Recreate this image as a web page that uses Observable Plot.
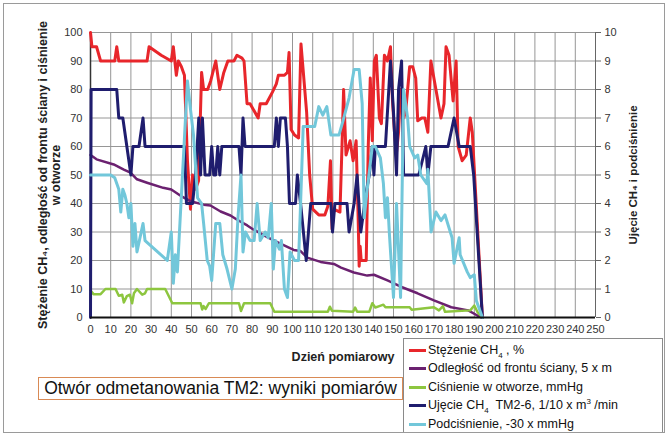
<!DOCTYPE html>
<html>
<head>
<meta charset="utf-8">
<script src="https://cdn.jsdelivr.net/npm/d3@7"></script>
<script src="https://cdn.jsdelivr.net/npm/@observablehq/plot@0.6"></script>
<style>
  html, body { margin: 0; padding: 0; background: #fff; }
  #wrap { position: relative; width: 671px; height: 438px; font-family: "Liberation Sans", Arial, sans-serif; }
  #frame { position: absolute; left: 3px; top: 3px; width: 662px; height: 430px; border: 1.5px solid #9a9a9a; box-sizing: border-box; pointer-events: none; }
  #title { position: absolute; left: 38px; top: 377px; width: 365px; height: 23px; border: 1.5px solid #d98a55; box-sizing: border-box; font-size: 17.5px; line-height: 20px; text-align: center; color: #111; white-space: nowrap; }
  #legend { position: absolute; left: 403px; top: 338px; width: 260px; height: 95px; border: 1px solid #8a8a8a; box-sizing: border-box; background: #fff; font-size: 12.5px; color: #111; padding-top: 2px; }
  .item { height: 18.4px; line-height: 18.4px; position: relative; padding-left: 24px; white-space: nowrap; }
  .sw { position: absolute; left: 5px; top: 8px; width: 17px; height: 3px; }
  sub, sup { font-size: 8px; line-height: 0; }
  svg { position: absolute; left: 0; top: 0; }
</style>
</head>
<body>
<div id="wrap">
  <div id="chart"></div>
  <div id="title">Otwór odmetanowania TM2: wyniki pomiarów</div>
  <div id="legend"></div>
  <div id="frame"></div>
</div>
<script>
// ---- Data ----
const xTicks = d3.range(0, 251, 10);
const leftTicks = d3.range(0, 101, 10);

// Stężenie CH4, % (left axis)
const ch4Day = [0,0.7,3,5,12,13,14,28,29,35,40,41,42.5,43.5,45,46.5,48,49.5,50.5,52,53.5,55,56,58,59.5,62,64,66,68,71,72.5,75,76,77.5,79,83,84,87,90,92,93,96,97.5,98.3,99.3,101,103,104.2,107,108.5,110,113,116,117.5,118.8,119.6,120.5,123.5,124.5,125.3,126.5,128.5,130,131.5,132.5,133,133.5,134,136.5,137.5,138.5,139.5,140.5,141.5,143,144,145.5,147,148.5,149.5,150.5,151.5,152.5,153.5,155,156,158,159.5,161,162,164,165.5,167,168.5,171,173.5,175,176,177.5,179.5,181,182,184,186,188,189,194];
const ch4Val = [100,95,95,90,90,95,90,90,95,92,90,95,85,90,88,85,55,38,50,45,48,86,80,80,83,90,80,86,90,90,92,91,90,75,75,70,75,75,79,82,85,85,86,93,66,64,63,96,72,50,38,36,36,39,55,31,38,37,60,80,57,62,55,62,35,18,25,20,20,60,84,62,90,92,70,68,92,90,95,76,65,58,65,80,70,72,88,88,84,69,70,70,65,90,80,70,75,95,92,76,90,60,55,57,70,65,0];

// Odległość od frontu ściany, 5 x m (left axis)
const distDay = [0,3,11.5,16.5,19.8,23,28,36,40,44.6,49.5,56,59.4,64.4,69.3,72.6,77.6,80.8,87.5,94,100.6,104,107.3,113.9,120.5,124,130.4,137,140.3,147,150.2,153.6,161.9,170,178.6,187,191.5,193.6];
const distVal = [57,55.5,53.7,51.9,50.8,48.5,47.3,45.5,44.9,42.7,40.8,39.6,39.3,37.2,35.8,34.3,32.3,30.8,28.2,25.9,23.7,23.3,21,19.5,18.8,17.5,15.8,14.7,15,13,12,10.8,8.5,6,3.6,2.5,0.7,0];

// Ciśnienie w otworze, mmHg (left axis)
const pressDay = [0,1.5,5,7.4,12.4,14,15.7,16.5,18,19.5,20.6,21.5,23,25.6,27,28,37,40.5,54.5,55.3,56,57,58.6,73.5,74.5,76,89,91,117.5,118.5,119.5,130,131,132,138,139.5,141,143,145,146,158,159,170,172.5,174.5,175.5,188,190,191.5,194];
const pressVal = [9.5,8.2,8.2,10,10,7.6,8,5.3,7.5,8,5,8.5,10,8,8.5,10,10,5,5,2.8,4,3,5,5,2.3,5,5,2,2,3.8,2.4,2,3.5,2,2,5,3.5,4,4.5,3.6,3.6,2.7,3.6,2.5,4,2,2.5,4.2,2,0];

// Ujęcie CH4 TM2-6, 1/10 x m3/min (right axis, 0–10)
const flowDay = [0,0.3,13,14,16,20,21,24,26,27,46.5,47.5,50.5,52,53.6,54.5,55.4,56.7,59,60,61,62,63,64,65,73.5,74.5,75.5,76.5,91,92,93,94,96.5,97.5,98.5,101.5,102.4,104,106.8,109,119,119.8,121,127,128,130.5,132,133.8,136.5,138,139.5,140.3,141,146,148.5,150,151.5,152.5,154,155,162.5,166,167,168.5,177,180,182.5,188,189.7,194];
const flowVal = [0,8,8,7,7,5,6,6,7,6,6,4,4,5,7,5,7,5,5,6,5,5,6,5,6,6,5,7,6,6,7,6,7,7,6,4,4,5,4,2,4,4,3,4,4,3,4,5,3,4.4,5,6,5,6,6,9,7.2,5,8,9,5,5,6,5,6,6,7,6,6,5,0];

// Podciśnienie, -30 x mmHg (right axis, 0–10)
const vacDay = [0,10,12,14,15,16,17,18,19,20,21,22,23,26,27,38,40,41,42,43,48,49.5,51,53,55,56,57.8,59,60,62,64,65.5,67.6,70,71.7,73,74.5,75.5,76.7,79,81,82.5,84,86.5,88,89.5,90.5,91.6,93.5,94.5,96,97.5,98.8,101,103,104,105.3,111,113,115,117,119,123,125,128,130.5,133,134.5,135.5,137,139.5,141,143.5,145,146,147,148,150,151.5,153.5,155,156,157,158,160.5,162,163.5,166.5,167,168.6,171,173.5,175.5,179,180,182.5,183,186.5,188,190,191,194];
const vacVal = [5,5,4.9,4.5,3.7,4.5,4.3,4,3.5,4,2.5,3.3,2.3,3.3,2.7,2,3,1.2,2.2,1.6,8.3,7.3,6.4,4.2,4,3.3,2,1.8,1.3,3.3,3.3,2.2,1.7,1,1.7,3.5,5,2.3,3,2.7,2.7,4,2.7,3,2.8,4,1.7,2.7,2.4,2.7,1,0.7,2.3,2,2,4,6.7,6.7,7.4,7.1,7.4,6.4,6.4,6.9,7.7,8.7,8.7,7.5,3.5,4.5,6,6,5.6,4.7,3.5,4.2,2.9,0.7,4,0.7,8,7.5,7,6,5.6,5.7,5,4.7,5.2,3,3.7,3.4,3.6,2.8,1.9,2.8,2.2,1.6,1.4,1.5,0.6,0];

const seriesNames = [
  {key: "ch4",   color: "#e8262b", html: "Stężenie CH<sub>4</sub> , %"},
  {key: "dist",  color: "#6b2170", html: "Odległość od frontu ściany, 5 x m"},
  {key: "press", color: "#8dc63f", html: "Ciśnienie w otworze, mmHg"},
  {key: "flow",  color: "#1f1d6e", html: "Ujęcie CH<sub>4</sub>&nbsp; TM2-6, 1/10 x m<sup>3</sup> /min"},
  {key: "vac",   color: "#72c7da", html: "Podciśnienie, -30 x mmHg"}
];

const zip = (ds, vs) => ds.map((d, i) => ({day: d, v: vs[i]}));
const ch4 = zip(ch4Day, ch4Val);
const dist = zip(distDay, distVal);
const press = zip(pressDay, pressVal);
const flow = zip(flowDay, flowVal);
const vac = zip(vacDay, vacVal);

const lineOpts = (color, w) => ({x: "day", y: "v", stroke: color, strokeWidth: w, strokeLinejoin: "round", strokeLinecap: "round"});
const rightOpts = (color, w) => ({x: "day", y: d => d.v * 10, stroke: color, strokeWidth: w, strokeLinejoin: "round", strokeLinecap: "round"});

const chart = Plot.plot({
  width: 671,
  height: 438,
  marginLeft: 90,
  marginRight: 76,
  marginTop: 32,
  marginBottom: 121,
  style: {fontFamily: "'Liberation Sans', Arial, sans-serif", fontSize: "11px", color: "#333", background: "#fff", overflow: "visible"},
  x: {domain: [0, 250]},
  y: {domain: [0, 100]},
  marks: [
    Plot.gridX(xTicks, {stroke: "#969696", strokeOpacity: 1, strokeWidth: 1}),
    Plot.gridY(leftTicks, {stroke: "#969696", strokeOpacity: 1, strokeWidth: 1}),
    Plot.axisX(xTicks, {tickSize: 0, tickPadding: 8, fontSize: 11, label: "Dzień pomiarowy", labelAnchor: "center", labelArrow: "none", labelOffset: 43}),
    Plot.axisY(leftTicks, {anchor: "left", tickSize: 0, tickPadding: 8, fontSize: 11, label: "Stężenie CH₄, odległość od frontu ściany i ciśnienie\nw otworze", labelAnchor: "center", labelArrow: "none", labelOffset: 52}),
    Plot.axisY(leftTicks, {anchor: "right", tickSize: 5, tickPadding: 4, stroke: "#666", fontSize: 11, tickFormat: d => d / 10, label: "Ujęcie CH₄ i podciśnienie", labelAnchor: "center", labelArrow: "none", labelOffset: 41}),
    Plot.ruleX([0], {stroke: "#333", strokeWidth: 1.5}),
    Plot.ruleX([250], {stroke: "#666", strokeWidth: 1}),
    Plot.line(ch4, lineOpts("#e8262b", 3)),
    Plot.line(dist, lineOpts("#6b2170", 2.5)),
    Plot.line(press, lineOpts("#8dc63f", 2.5)),
    Plot.line(flow, rightOpts("#1f1d6e", 3)),
    Plot.line(vac, rightOpts("#72c7da", 3)),
    Plot.ruleY([0], {stroke: "#111", strokeWidth: 2})
  ]
});
// axis titles: bold and darker like the reference
chart.querySelectorAll("g[aria-label='x-axis label'] text, g[aria-label='y-axis label'] text").forEach((t, i, all) => {
  t.setAttribute("font-weight", "bold");
  t.setAttribute("font-size", "12.5");
  t.setAttribute("fill", "#222");
});
// the right-hand axis title is a little smaller
const yLabels = chart.querySelectorAll("g[aria-label='y-axis label'] text");
if (yLabels.length > 1) yLabels[yLabels.length - 1].setAttribute("font-size", "11.5");
document.getElementById("chart").appendChild(chart);

const legend = document.getElementById("legend");
seriesNames.forEach(s => {
  const it = document.createElement("div");
  it.className = "item";
  it.innerHTML = `<span class="sw" style="background:${s.color}"></span>${s.html}`;
  legend.appendChild(it);
});
</script>
</body>
</html>
